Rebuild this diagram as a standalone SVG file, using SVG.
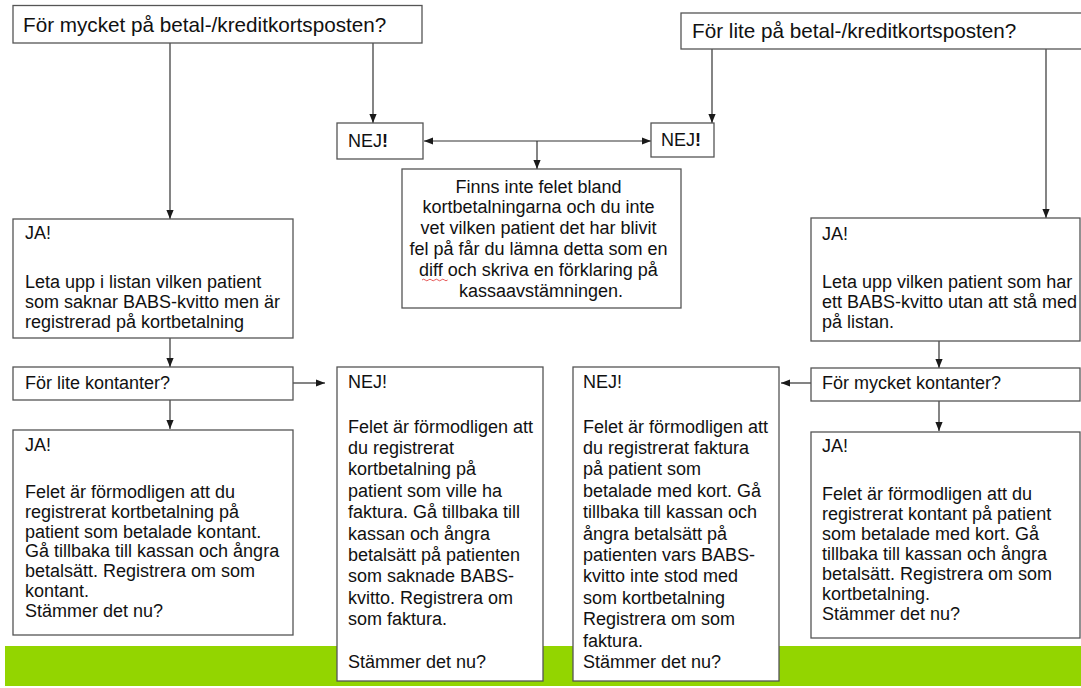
<svg xmlns="http://www.w3.org/2000/svg" width="1081" height="688" viewBox="0 0 1081 688">
<defs>
<marker id="ah" viewBox="0 0 10 8" refX="10" refY="4" markerWidth="9" markerHeight="7.2" markerUnits="userSpaceOnUse" orient="auto-start-reverse"><path d="M0,0 L10,4 L0,8 z" fill="#1a1a1a"/></marker>
<style>
.box{fill:#fff;stroke:#555;stroke-width:1.3}
.t{font-family:"Liberation Sans",Arial,sans-serif;font-size:18px;fill:#111}
.title{font-size:20.7px}
.mid{text-anchor:middle}
.c{fill:none;stroke:#333;stroke-width:1.2}
</style>
</defs>
<rect x="0" y="0" width="1081" height="688" fill="#fff"/>
<rect id="greenbar" x="5" y="646" width="1076" height="40" fill="#93d500"/>

<g id="connectors">
<line class="c" x1="170" y1="43" x2="170" y2="219" marker-end="url(#ah)"/>
<line class="c" x1="373" y1="43" x2="373" y2="123" marker-end="url(#ah)"/>
<line class="c" x1="712" y1="49" x2="712" y2="123" marker-end="url(#ah)"/>
<line class="c" x1="1046" y1="49" x2="1046" y2="218" marker-end="url(#ah)"/>
<line class="c" x1="424" y1="141" x2="651" y2="141" marker-start="url(#ah)" marker-end="url(#ah)"/>
<line class="c" x1="537" y1="141" x2="537" y2="169" marker-end="url(#ah)"/>
<line class="c" x1="170" y1="338" x2="170" y2="367" marker-end="url(#ah)"/>
<line class="c" x1="293" y1="383" x2="325" y2="383" marker-end="url(#ah)"/>
<line class="c" x1="170" y1="400" x2="170" y2="429" marker-end="url(#ah)"/>
<line class="c" x1="939" y1="341" x2="939" y2="368" marker-end="url(#ah)"/>
<line class="c" x1="811" y1="383" x2="781" y2="383" marker-end="url(#ah)"/>
<line class="c" x1="939" y1="401" x2="939" y2="431" marker-end="url(#ah)"/>
</g>

<g id="q-mycket-kort">
<rect class="box" x="13" y="5.5" width="409" height="37.5"/>
<text class="t title" x="23" y="32">För mycket på betal-/kreditkortsposten?</text>
</g>
<g id="q-lite-kort">
<rect class="box" x="681" y="13" width="405" height="36"/>
<text class="t title" x="692" y="38">För lite på betal-/kreditkortsposten?</text>
</g>
<g id="nej-left-top">
<rect class="box" x="337" y="123" width="86" height="36"/>
<text class="t" x="348" y="147">NEJ<tspan font-weight="bold">!</tspan></text>
</g>
<g id="nej-right-top">
<rect class="box" x="651" y="123" width="63" height="34"/>
<text class="t" x="661" y="146">NEJ<tspan font-weight="bold">!</tspan></text>
</g>
<g id="finns">
<rect class="box" x="402" y="169" width="279" height="139"/>
<text class="t mid">
<tspan x="541" y="192.5">Finns inte felet bland</tspan>
<tspan x="541" y="213.4">kortbetalningarna och du inte</tspan>
<tspan x="541" y="234.3">vet vilken patient det har blivit</tspan>
<tspan x="541" y="255.2">fel på får du lämna detta som en</tspan>
<tspan x="541" y="276.1">diff och skriva en förklaring på</tspan>
<tspan x="541" y="297">kassaavstämningen.</tspan>
</text>
<path d="M422,280 q1.6,-1.6 3.2,0 t3.2,0 t3.2,0 t3.2,0 t3.2,0 t3.2,0 t3.2,0 t3.2,0" fill="none" stroke="#e03030" stroke-width="0.8"/>
</g>
<g id="ja-left-top">
<rect class="box" x="13" y="219" width="280" height="119"/>
<text class="t">
<tspan x="25" y="239">JA!</tspan>
<tspan x="25" y="288">Leta upp i listan vilken patient</tspan>
<tspan x="25" y="308">som saknar BABS-kvitto men är</tspan>
<tspan x="25" y="328">registrerad på kortbetalning</tspan>
</text>
</g>
<g id="q-lite-kontanter">
<rect class="box" x="13" y="367" width="280" height="33"/>
<text class="t" x="25" y="389">För lite kontanter?</text>
</g>
<g id="ja-left-bottom">
<rect class="box" x="13" y="430" width="280" height="205"/>
<text class="t">
<tspan x="25" y="451">JA!</tspan>
<tspan x="25" y="498">Felet är förmodligen att du</tspan>
<tspan x="25" y="517.8">registrerat kortbetalning på</tspan>
<tspan x="25" y="537.6">patient som betalade kontant.</tspan>
<tspan x="25" y="557.4">Gå tillbaka till kassan och ångra</tspan>
<tspan x="25" y="577.2">betalsätt. Registrera om som</tspan>
<tspan x="25" y="597">kontant.</tspan>
<tspan x="25" y="616.8">Stämmer det nu?</tspan>
</text>
</g>
<g id="nej-mid-left">
<rect class="box" x="337" y="367" width="206" height="314"/>
<text class="t">
<tspan x="348" y="388">NEJ!</tspan>
<tspan x="348" y="432.5">Felet är förmodligen att</tspan>
<tspan x="348" y="453.9">du registrerat</tspan>
<tspan x="348" y="475.3">kortbetalning på</tspan>
<tspan x="348" y="496.7">patient som ville ha</tspan>
<tspan x="348" y="518.1">faktura. Gå tillbaka till</tspan>
<tspan x="348" y="539.5">kassan och ångra</tspan>
<tspan x="348" y="560.9">betalsätt på patienten</tspan>
<tspan x="348" y="582.3">som saknade BABS-</tspan>
<tspan x="348" y="603.7">kvitto. Registrera om</tspan>
<tspan x="348" y="625.1">som faktura.</tspan>
<tspan x="348" y="667.9">Stämmer det nu?</tspan>
</text>
</g>
<g id="nej-mid-right">
<rect class="box" x="573" y="367" width="206" height="314"/>
<text class="t">
<tspan x="583" y="388">NEJ!</tspan>
<tspan x="583" y="432.5">Felet är förmodligen att</tspan>
<tspan x="583" y="453.9">du registrerat faktura</tspan>
<tspan x="583" y="475.3">på patient som</tspan>
<tspan x="583" y="496.7">betalade med kort. Gå</tspan>
<tspan x="583" y="518.1">tillbaka till kassan och</tspan>
<tspan x="583" y="539.5">ångra betalsätt på</tspan>
<tspan x="583" y="560.9">patienten vars BABS-</tspan>
<tspan x="583" y="582.3">kvitto inte stod med</tspan>
<tspan x="583" y="603.7">som kortbetalning</tspan>
<tspan x="583" y="625.1">Registrera om som</tspan>
<tspan x="583" y="646.5">faktura.</tspan>
<tspan x="583" y="667.9">Stämmer det nu?</tspan>
</text>
</g>
<g id="ja-right-top">
<rect class="box" x="811" y="218" width="269" height="123"/>
<text class="t">
<tspan x="822" y="240">JA!</tspan>
<tspan x="822" y="288">Leta upp vilken patient som har</tspan>
<tspan x="822" y="308">ett BABS-kvitto utan att stå med</tspan>
<tspan x="822" y="328">på listan.</tspan>
</text>
</g>
<g id="q-mycket-kontanter">
<rect class="box" x="811" y="368" width="269" height="33"/>
<text class="t" x="822" y="389">För mycket kontanter?</text>
</g>
<g id="ja-right-bottom">
<rect class="box" x="811" y="432" width="269" height="206"/>
<text class="t">
<tspan x="822" y="452">JA!</tspan>
<tspan x="822" y="500">Felet är förmodligen att du</tspan>
<tspan x="822" y="520">registrerat kontant på patient</tspan>
<tspan x="822" y="540">som betalade med kort. Gå</tspan>
<tspan x="822" y="560">tillbaka till kassan och ångra</tspan>
<tspan x="822" y="580">betalsätt. Registrera om som</tspan>
<tspan x="822" y="600">kortbetalning.</tspan>
<tspan x="822" y="620">Stämmer det nu?</tspan>
</text>
</g>
</svg>
